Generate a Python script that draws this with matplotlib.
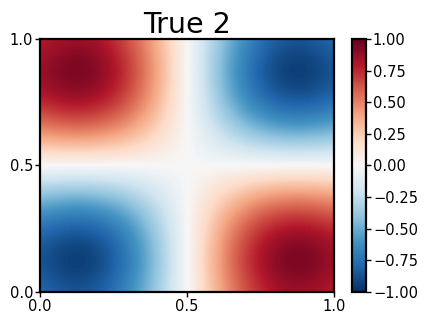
import numpy as np
import matplotlib
matplotlib.use("Agg")
import matplotlib.pyplot as plt

# grid sample positions (cell centres) along each axis
x_pos = [0.0, 0.1, 0.2, 0.3, 0.4, 0.5, 0.6, 0.7, 0.8, 0.9, 1.0]
y_pos = [0.0, 0.1, 0.2, 0.3, 0.4, 0.5, 0.6, 0.7, 0.8, 0.9, 1.0]

# field values, rows from y=1.0 (top) down to y=0.0
row_y10 = [0.76, 0.86, 0.83, 0.64, 0.35, 0.0, -0.35, -0.64, -0.83, -0.86, -0.76]
row_y09 = [0.86, 0.98, 0.94, 0.73, 0.40, 0.0, -0.40, -0.73, -0.94, -0.98, -0.86]
row_y08 = [0.83, 0.94, 0.90, 0.70, 0.38, 0.0, -0.38, -0.70, -0.90, -0.94, -0.83]
row_y07 = [0.64, 0.73, 0.70, 0.55, 0.30, 0.0, -0.30, -0.55, -0.70, -0.73, -0.64]
row_y06 = [0.35, 0.40, 0.38, 0.30, 0.16, 0.0, -0.16, -0.30, -0.38, -0.40, -0.35]
row_y05 = [0.0, 0.0, 0.0, 0.0, 0.0, 0.0, 0.0, 0.0, 0.0, 0.0, 0.0]
row_y04 = [-0.35, -0.40, -0.38, -0.30, -0.16, 0.0, 0.16, 0.30, 0.38, 0.40, 0.35]
row_y03 = [-0.64, -0.73, -0.70, -0.55, -0.30, 0.0, 0.30, 0.55, 0.70, 0.73, 0.64]
row_y02 = [-0.83, -0.94, -0.90, -0.70, -0.38, 0.0, 0.38, 0.70, 0.90, 0.94, 0.83]
row_y01 = [-0.86, -0.98, -0.94, -0.73, -0.40, 0.0, 0.40, 0.73, 0.94, 0.98, 0.86]
row_y00 = [-0.76, -0.86, -0.83, -0.64, -0.35, 0.0, 0.35, 0.64, 0.83, 0.86, 0.76]

field = np.array([row_y10, row_y09, row_y08, row_y07, row_y06, row_y05,
                  row_y04, row_y03, row_y02, row_y01, row_y00])

title = "True 2"
xticks = [0.0, 0.5, 1.0]
yticks = [0.0, 0.5, 1.0]
cbar_ticks = [-1.0, -0.75, -0.5, -0.25, 0.0, 0.25, 0.5, 0.75, 1.0]

fig = plt.figure(figsize=(4.32, 3.24), dpi=100)
ax = fig.add_axes([0.0926, 0.0988, 0.6806, 0.7808])
cax = fig.add_axes([0.8148, 0.0988, 0.0324, 0.7808])

dx = (x_pos[1] - x_pos[0]) / 2
dy = (y_pos[1] - y_pos[0]) / 2
im = ax.imshow(field, cmap="RdBu_r", vmin=-1, vmax=1, origin="upper",
               extent=[x_pos[0] - dx, x_pos[-1] + dx, y_pos[0] - dy, y_pos[-1] + dy],
               interpolation="bicubic", aspect="auto")
ax.set_xlim(0, 1)
ax.set_ylim(0, 1)
ax.set_xticks(xticks)
ax.set_yticks(yticks)
ax.set_xticklabels([f"{t:.1f}" for t in xticks])
ax.set_yticklabels([f"{t:.1f}" for t in yticks])
ax.tick_params(labelsize=10.5, length=3.5, width=1, pad=1.5)
for s in ax.spines.values():
    s.set_linewidth(1.6)
ax.set_title(title, fontsize=20.5, pad=2)

cb = fig.colorbar(im, cax=cax, ticks=cbar_ticks)
cb.ax.tick_params(labelsize=10.5, length=3.5, width=1, pad=1.5)
cb.outline.set_linewidth(1.6)

fig.savefig("out.png", dpi=100)
